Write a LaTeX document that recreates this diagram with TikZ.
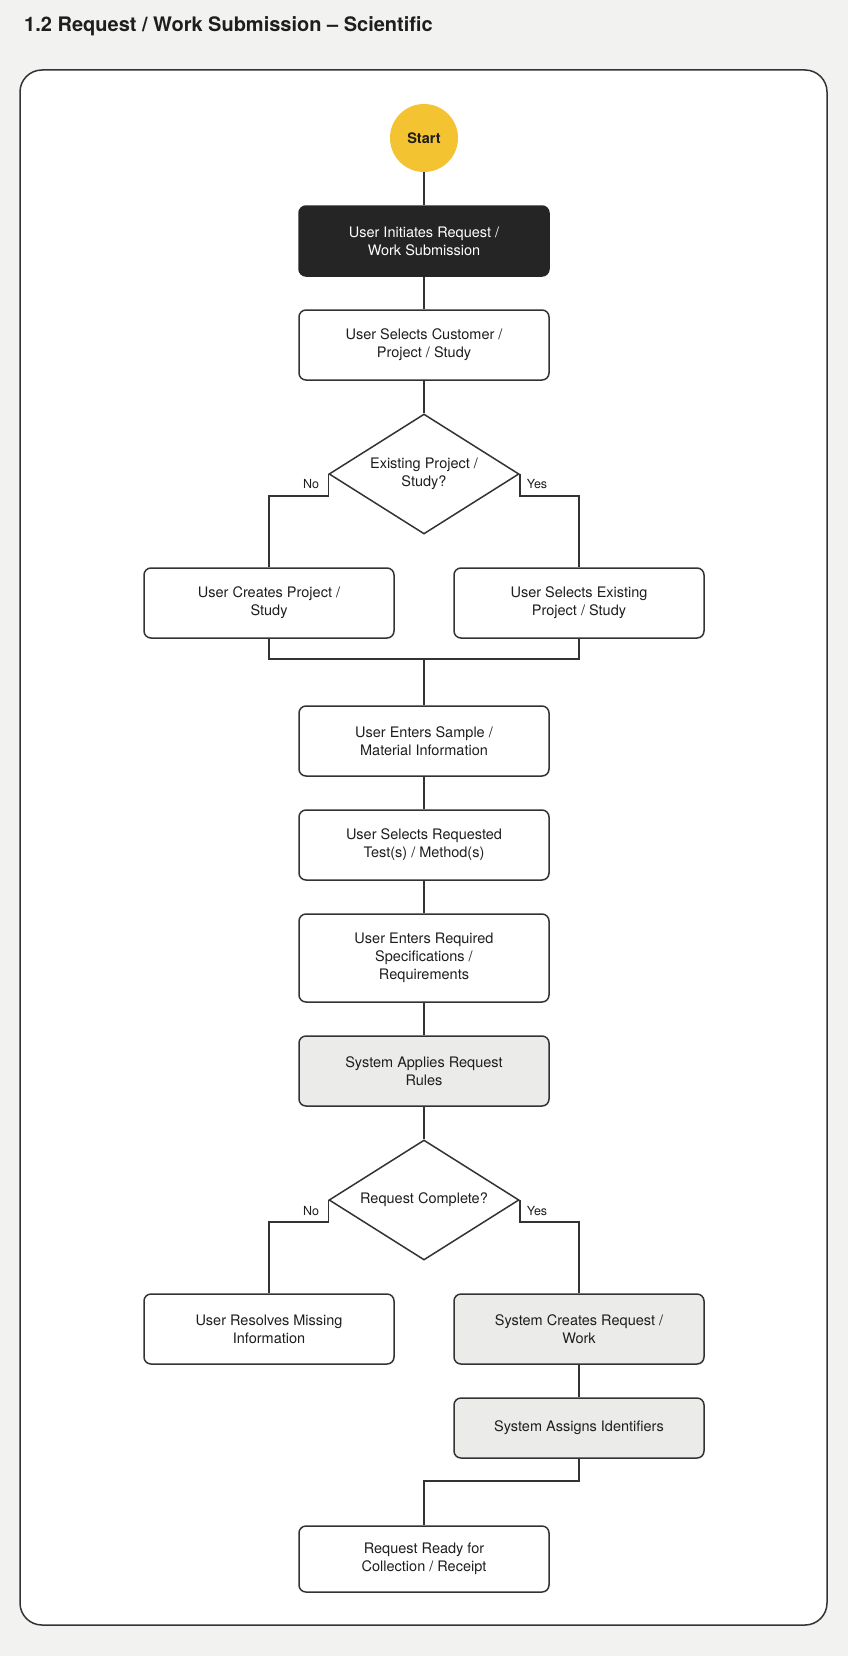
\documentclass[tikz,border=0pt]{standalone}
\usepackage{fontspec}
\setmainfont{TeX Gyre Heros}
\usetikzlibrary{shapes.geometric}
\definecolor{bg}{HTML}{F2F2F0}
\definecolor{ink}{HTML}{333333}
\definecolor{txt}{HTML}{1E1E1E}
\definecolor{darkfill}{HTML}{252525}
\definecolor{grayfill}{HTML}{EBEBEA}
\definecolor{startfill}{HTML}{F3C331}
\tikzset{
  every node/.style={text=txt},
  flowbox/.style={draw=ink, line width=1.5pt, fill=white, rounded corners=7pt,
    minimum width=250pt, minimum height=70pt, inner sep=0pt, align=center,
    font=\fontsize{14.5}{18}\selectfont},
  darkbox/.style={flowbox, fill=darkfill, draw=darkfill, text=white},
  sysbox/.style={flowbox, fill=grayfill},
  decision/.style={diamond, draw=ink, line width=1.5pt, fill=white, inner sep=0pt,
    minimum width=190pt, minimum height=120pt, aspect=1.58, align=center,
    font=\fontsize{14.5}{18}\selectfont},
  startnode/.style={circle, fill=startfill, minimum size=68pt, inner sep=0pt,
    font=\bfseries\fontsize{14.5}{18}\selectfont},
  conn/.style={draw=ink, line width=1.5pt},
  branchlabel/.style={font=\fontsize{12.5}{15}\selectfont, inner sep=0pt},
}
\begin{document}
\begin{tikzpicture}[x=1pt,y=1pt]
\useasboundingbox (0,0) rectangle (848,-1656);
\fill[bg] (0,0) rectangle (848,-1656);
\node[anchor=base west, inner sep=0pt, font=\bfseries\fontsize{20}{24}\selectfont] (title) at (24,-32) {1.2 Request / Work Submission – Scientific};
\draw[ink, line width=1.5pt, fill=white, rounded corners=22pt] (20,-70) rectangle (827,-1625);

\node[startnode] (start) at (424,-138) {Start};
\node[darkbox] (init) at (424,-241) {User Initiates Request /\\Work Submission};
\node[flowbox] (cust) at (424,-345) {User Selects Customer /\\Project / Study};
\node[decision] (d1) at (424,-474) {Existing Project /\\Study?};
\node[flowbox] (create) at (269,-603) {User Creates Project /\\Study};
\node[flowbox] (exist) at (579,-603) {User Selects Existing\\Project / Study};
\coordinate (merge) at (424,-659);
\node[flowbox] (sample) at (424,-741) {User Enters Sample /\\Material Information};
\node[flowbox] (tests) at (424,-845) {User Selects Requested\\Test(s) / Method(s)};
\node[flowbox, minimum height=88pt] (specs) at (424,-958) {User Enters Required\\Specifications /\\Requirements};
\node[sysbox] (rules) at (424,-1071) {System Applies Request\\Rules};
\node[decision] (d2) at (424,-1200) {Request Complete?};
\node[flowbox] (resolve) at (269,-1329) {User Resolves Missing\\Information};
\node[sysbox] (creq) at (579,-1329) {System Creates Request /\\Work};
\node[sysbox, minimum height=60pt] (ids) at (579,-1428) {System Assigns Identifiers};
\node[flowbox, minimum height=66pt] (ready) at (424,-1559) {Request Ready for\\Collection / Receipt};

\node[branchlabel] (no1) at (311,-484) {No};
\node[branchlabel] (yes1) at (537,-484) {Yes};
\node[branchlabel] (no2) at (311,-1211) {No};
\node[branchlabel] (yes2) at (537,-1211) {Yes};

\draw[conn] (start) -- (init);
\draw[conn] (init) -- (cust);
\draw[conn] (cust) -- (d1);
\draw[conn] (d1.west) -- ++(0,-22) -| (create.north);
\draw[conn] (d1.east) -- ++(0,-22) -| (exist.north);
\draw[conn] (create.south) |- (merge) -| (exist.south);
\draw[conn] (merge) -- (sample);
\draw[conn] (sample) -- (tests);
\draw[conn] (tests) -- (specs);
\draw[conn] (specs) -- (rules);
\draw[conn] (rules) -- (d2);
\draw[conn] (d2.west) -- ++(0,-22) -| (resolve.north);
\draw[conn] (d2.east) -- ++(0,-22) -| (creq.north);
\draw[conn] (creq) -- (ids);
\draw[conn] (ids.south) -- ++(0,-22) -| (ready.north);
\end{tikzpicture}
\end{document}
